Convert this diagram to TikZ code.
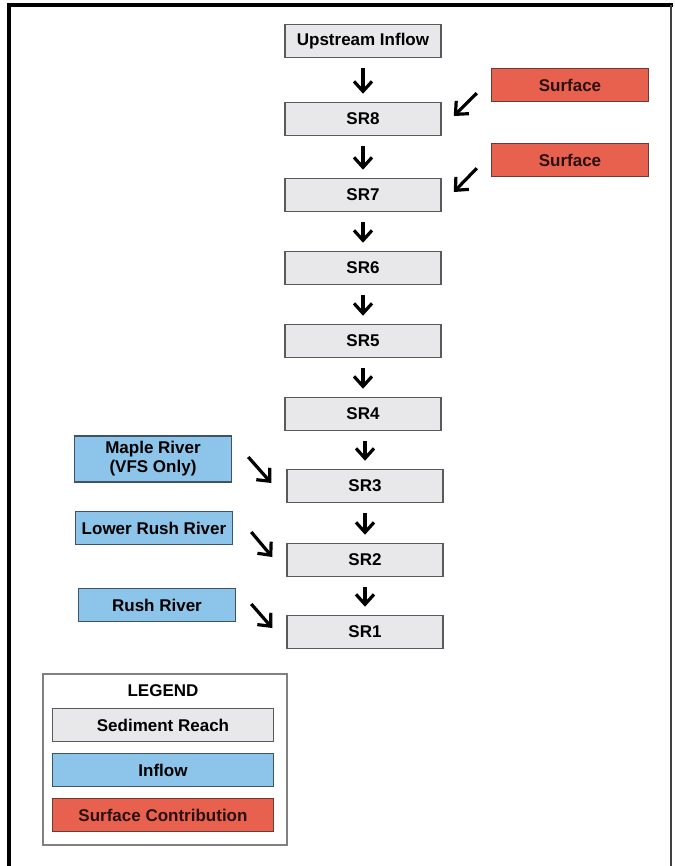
\documentclass[tikz,border=0pt]{standalone}
\usepackage{fontspec}
\setmainfont{Liberation Sans}
\usetikzlibrary{arrows.meta}
\definecolor{reachfill}{HTML}{E8E8EB}
\definecolor{reachline}{HTML}{5A5A5C}
\definecolor{inflowfill}{HTML}{8DC4EA}
\definecolor{inflowline}{HTML}{3E5466}
\definecolor{surffill}{HTML}{E8614F}
\definecolor{surfline}{HTML}{6A3A34}
\definecolor{surftext}{HTML}{2A1210}
\tikzset{
  box/.style={rectangle, line width=1.5pt, minimum width=156pt, minimum height=33pt,
    inner sep=2pt, align=center, font=\fontsize{17}{19}\selectfont\bfseries},
  reach/.style={box, draw=reachline, fill=reachfill, text=black},
  inflow/.style={box, draw=inflowline, fill=inflowfill, text=black},
  surf/.style={box, draw=surfline, fill=surffill, text=surftext},
  flow/.style={line width=3.2pt, -{Straight Barb[length=10pt,width=18pt]}},
  down/.style={flow, shorten <=10pt, shorten >=8pt},
}
\begin{document}
\begin{tikzpicture}[x=1pt,y=-1pt]
\useasboundingbox (0,0) rectangle (674,866);
\fill[white] (0,0) rectangle (674,866);
% outer frame, open at the bottom
\draw[line width=3.5pt, line cap=rect] (9,866) -- (9,5) -- (671,5);
\draw[line width=2pt, draw=black!75] (671,5) -- (671,866);

% main chain of sediment reaches
\node[reach] (up)  at (363,41)  {Upstream Inflow};
\node[reach] (sr8) at (363,119) {SR8};
\node[reach] (sr7) at (363,195) {SR7};
\node[reach] (sr6) at (363,268) {SR6};
\node[reach] (sr5) at (363,341) {SR5};
\node[reach] (sr4) at (363,414) {SR4};
\node[reach] (sr3) at (365,486) {SR3};
\node[reach] (sr2) at (365,560) {SR2};
\node[reach] (sr1) at (365,632) {SR1};

% surface contributions
\node[surf, minimum width=157pt] (s1) at (570,85)  {Surface};
\node[surf, minimum width=157pt] (s2) at (570,160) {Surface};

% tributary inflows
\node[inflow, minimum width=157pt, minimum height=46pt] (maple) at (153,459) {Maple River\\(VFS Only)};
\node[inflow, minimum width=157pt] (lrush) at (154,528) {Lower Rush River};
\node[inflow, minimum width=157pt] (rush)  at (157,605) {Rush River};

% downstream flow
\draw[down] (up)  -- (sr8);
\draw[down] (sr8) -- (sr7);
\draw[down] (sr7) -- (sr6);
\draw[down] (sr6) -- (sr5);
\draw[down] (sr5) -- (sr4);
\draw[down] ([xshift=2pt]sr4.south) -- (sr3.north);
\draw[down] (sr3) -- (sr2);
\draw[down] (sr2) -- (sr1);

% lateral inputs
\draw[flow] ([shift={(-14,-9)}]s1.south west) -- ([shift={(12,-3)}]sr8.east);
\draw[flow] ([shift={(-14,-9)}]s2.south west) -- ([shift={(12,-3)}]sr7.east);
\draw[flow] ([shift={(16,-2)}]maple.east) -- ([shift={(-15,-3)}]sr3.west);
\draw[flow] ([shift={(18,4)}]lrush.east) -- ([shift={(-14,-3)}]sr2.west);
\draw[flow] ([shift={(15,-1)}]rush.east) -- ([shift={(-14,-4)}]sr1.west);

% legend
\node[draw=black!50, line width=1.5pt, minimum width=244pt, minimum height=171pt] (legend) at (165,759.5) {};
\node[font=\fontsize{17}{19}\selectfont\bfseries] (legtitle) at (163,691) {LEGEND};
\node[reach, minimum width=221pt] (key1) at (163,725) {Sediment Reach};
\node[inflow, minimum width=221pt] (key2) at (163,770) {Inflow};
\node[surf, minimum width=221pt] (key3) at (163,815) {Surface Contribution};
\end{tikzpicture}
\end{document}
